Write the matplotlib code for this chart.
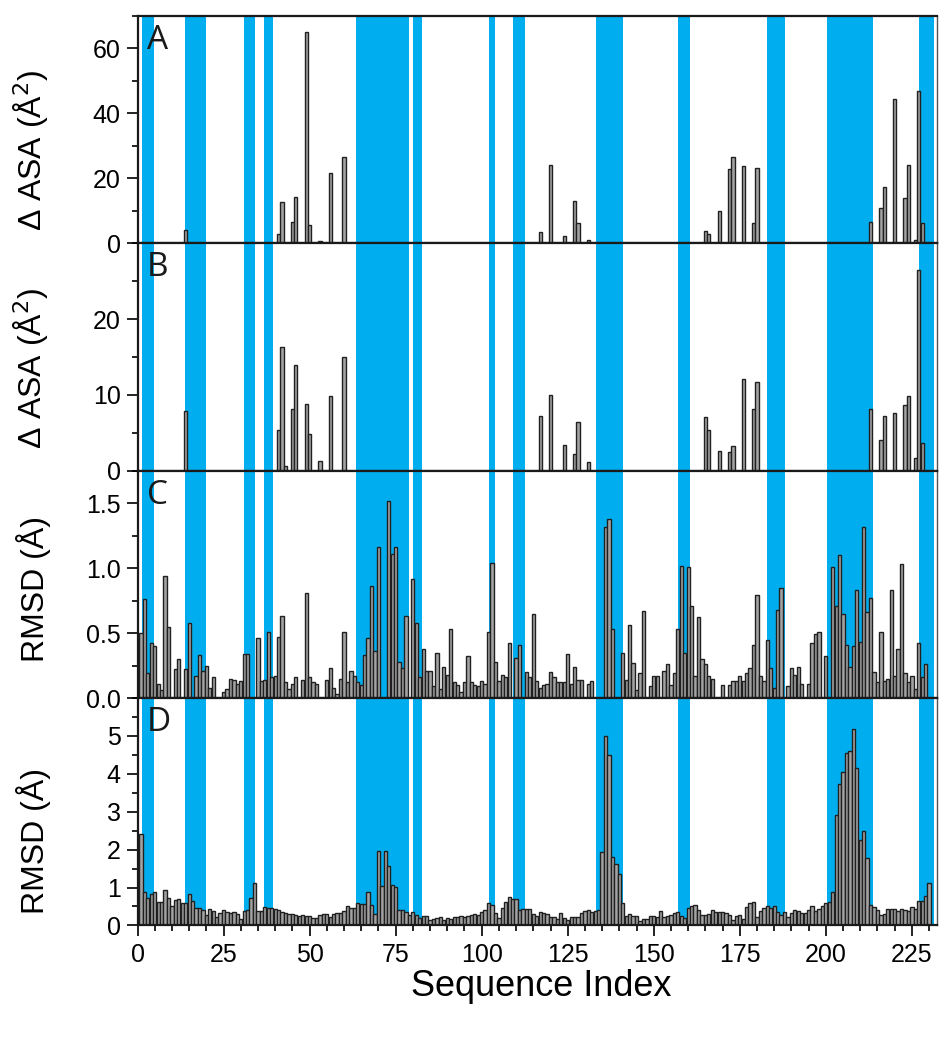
import matplotlib
matplotlib.use('Agg')
import matplotlib.pyplot as plt
import numpy as np
from matplotlib.ticker import MultipleLocator, FormatStrFormatter

# residue numbering 1..230
n_res = 230
res = np.arange(1, n_res + 1)

# panel A / B: only the residues with a non-zero value
a_idx = [14, 41, 42, 45, 46, 49, 50, 53, 56, 60, 117, 120, 124, 127, 128, 131,
         165, 166, 169, 172, 173, 176, 179, 180, 213, 216, 217, 220, 223, 224,
         226, 227, 228]
a_val = [4.0, 2.8, 12.8, 6.7, 14.3, 65.1, 5.6, 0.7, 21.6, 26.6, 3.6, 24.0, 2.1,
         13.0, 6.3, 1.1, 3.9, 2.8, 9.8, 23.0, 26.6, 23.8, 6.3, 23.3, 6.5, 10.8,
         17.2, 44.4, 14.0, 24.0, 0.9, 47.0, 6.3]

b_idx = [14, 41, 42, 43, 45, 46, 49, 50, 53, 56, 60, 117, 120, 124, 127, 128,
         131, 165, 166, 169, 172, 173, 176, 179, 180, 213, 216, 217, 220, 223,
         224, 226, 227, 228]
b_val = [7.9, 5.4, 16.3, 0.6, 8.2, 14.0, 8.8, 4.8, 1.3, 9.8, 15.0, 7.2, 10.0,
         3.4, 2.2, 6.4, 1.2, 7.1, 5.4, 2.6, 2.5, 3.2, 12.1, 8.1, 11.7, 8.2, 4.0,
         7.2, 7.6, 8.7, 9.8, 1.7, 26.5, 3.7]

# panel C: RMSD per residue
rmsd_c = [
    0.50, 0.76, 0.19, 0.42, 0.40, 0.11, 0.06, 0.94, 0.55, 0,
    0.22, 0.30, 0, 0.22, 0.58, 0, 0.17, 0.33, 0.21, 0.25,
    0.08, 0.16, 0, 0, 0.05, 0.07, 0.15, 0.14, 0.11, 0.13,
    0.34, 0.34, 0, 0, 0.46, 0.13, 0.14, 0.51, 0.16, 0.17,
    0.47, 0.63, 0.12, 0.07, 0.11, 0.16, 0, 0.14, 0.81, 0.16,
    0.12, 0.11, 0, 0, 0.14, 0.23, 0.08, 0.03, 0.15, 0.51,
    0.12, 0.21, 0.17, 0.12, 0.10, 0.33, 0.46, 0.86, 0.36, 1.16,
    0, 0, 1.52, 1.11, 1.16, 0.28, 0.23, 0.63, 0, 0.92,
    0.58, 0.16, 0.38, 0.21, 0.21, 0.09, 0.35, 0.07, 0.24, 0.18,
    0.53, 0.12, 0.10, 0.05, 0.12, 0.32, 0.12, 0.10, 0.09, 0.13,
    0.11, 0.51, 1.04, 0.28, 0.13, 0.18, 0.16, 0.42, 0, 0.31,
    0.41, 0, 0.20, 0.16, 0.65, 0.13, 0.08, 0.10, 0.11, 0.20,
    0.16, 0.12, 0.12, 0.12, 0.34, 0.11, 0.24, 0.14, 0.14, 0,
    0.11, 0.13, 0, 0, 0, 1.32, 1.38, 0.53, 0, 0,
    0.35, 0.14, 0.56, 0.27, 0.06, 0.19, 0.67, 0, 0.09, 0.17,
    0.17, 0, 0.21, 0.26, 0.10, 0.19, 0.53, 1.02, 0.35, 1.01,
    0.71, 0.17, 0.62, 0.30, 0.26, 0.17, 0.15, 0, 0, 0.10,
    0, 0.10, 0.13, 0.13, 0.17, 0.13, 0.19, 0.23, 0.41, 0.79,
    0.17, 0.13, 0.45, 0.23, 0.08, 0.68, 0.85, 0, 0.09, 0.23,
    0.18, 0.24, 0.11, 0, 0.11, 0.42, 0.49, 0.51, 0, 0.32,
    0, 1.01, 0.71, 1.10, 0.65, 0.41, 0.24, 0.40, 0.83, 0.43,
    1.32, 0.66, 0.77, 0.20, 0.12, 0.51, 0.13, 0.15, 0.83, 0.17,
    0.38, 1.03, 0.19, 0.12, 0.17, 0.07, 0.42, 0.16, 0.26, 0,
]

# panel D: RMSD per residue
rmsd_d = [
    2.40, 0.87, 0.73, 0.82, 0.88, 0.62, 0.62, 0.93, 0.73, 0.50,
    0.66, 0.71, 0.60, 0.58, 0.83, 0.64, 0.46, 0.46, 0.42, 0.27,
    0.44, 0.38, 0.22, 0.34, 0.42, 0.35, 0.33, 0.35, 0.31, 0.18,
    0.37, 0.40, 0.73, 1.11, 0.38, 0.38, 0.49, 0.46, 0.46, 0.44,
    0.40, 0.35, 0.33, 0.29, 0.29, 0.28, 0.25, 0.27, 0.26, 0.24,
    0.20, 0.19, 0.27, 0.31, 0.29, 0.22, 0.31, 0.32, 0.33, 0.37,
    0.50, 0.45, 0.47, 0.58, 0.56, 0.56, 0.87, 0.53, 0.31, 1.97,
    1.04, 1.97, 1.57, 1.06, 1.01, 0.40, 0.40, 0.35, 0.28, 0.35,
    0.28, 0.19, 0.24, 0.26, 0.14, 0.18, 0.19, 0.21, 0.14, 0.19,
    0.18, 0.22, 0.22, 0.26, 0.22, 0.26, 0.28, 0.31, 0.28, 0.35,
    0.40, 0.59, 0.55, 0.33, 0.19, 0.46, 0.62, 0.74, 0.70, 0.70,
    0.42, 0.44, 0.44, 0.44, 0.30, 0.26, 0.35, 0.33, 0.30, 0.21,
    0.21, 0.17, 0.33, 0.19, 0.15, 0.22, 0.22, 0.21, 0.33, 0.37,
    0.40, 0.35, 0.39, 0.42, 1.95, 4.99, 4.49, 1.81, 1.61, 1.37,
    0.58, 0.26, 0.31, 0.26, 0.24, 0.13, 0.18, 0.18, 0.24, 0.26,
    0.22, 0.39, 0.22, 0.24, 0.28, 0.33, 0.35, 0.26, 0.19, 0.46,
    0.50, 0.53, 0.40, 0.28, 0.28, 0.30, 0.40, 0.35, 0.35, 0.35,
    0.33, 0.28, 0.15, 0.26, 0.28, 0.17, 0.49, 0.59, 0.61, 0.22,
    0.39, 0.46, 0.52, 0.46, 0.52, 0.35, 0.28, 0.35, 0.22, 0.33,
    0.40, 0.37, 0.33, 0.33, 0.42, 0.50, 0.37, 0.43, 0.50, 0.58,
    0.61, 0.88, 2.92, 3.72, 4.04, 4.55, 4.60, 5.18, 4.15, 2.26,
    2.50, 1.79, 0.53, 0.48, 0.40, 0.28, 0.30, 0.44, 0.44, 0.44,
    0.37, 0.44, 0.42, 0.37, 0.49, 0.44, 0.65, 0.64, 0.77, 1.11,
]

# shaded (blue) segments, sequence index ranges
bands = [(1.4, 4.8), (13.9, 20.0), (30.8, 34.2), (36.8, 39.3), (63.6, 78.9),
         (80.1, 82.6), (102.2, 103.8), (109.1, 112.5), (133.1, 141.0),
         (157.0, 160.4), (183.0, 188.0), (200.2, 213.7), (227.1, 231.5)]

asa_a = np.zeros(n_res)
asa_a[np.array(a_idx) - 1] = a_val
asa_b = np.zeros(n_res)
asa_b[np.array(b_idx) - 1] = b_val

# letter, values, y label, ymax, labelled ticks, minor step, label y-position
panels = [
    ('A', asa_a, 'Δ ASA (Å$^{2}$)', 70, [0, 20, 40, 60], 10, 0.41),
    ('B', asa_b, 'Δ ASA (Å$^{2}$)', 30, [0, 10, 20], 5, 0.45),
    ('C', np.array(rmsd_c), 'RMSD (Å)', 1.75, [0, 0.5, 1.0, 1.5], 0.25, 0.48),
    ('D', np.array(rmsd_d), 'RMSD (Å)', 6.0, [0, 1, 2, 3, 4, 5], 0.5, 0.37),
]

blue = '#00aeef'
tick_font = 'Liberation Sans'

fig = plt.figure(figsize=(9.4, 10.39), dpi=100)
left, width = 0.1463, 0.8505
bottom0, h = 0.1093, 0.21885

for k, (letter, vals, ylab, ytop, yt, minor, ly) in enumerate(panels):
    ax = fig.add_axes([left, bottom0 + (3 - k) * h, width, h])
    for x0, x1 in bands:
        ax.axvspan(x0, x1, color=blue, lw=0, zorder=0)
    ax.bar(res, vals, width=0.95, color='#a3a3a3', edgecolor='#202020',
           linewidth=1.0, zorder=2)
    ax.set_xlim(0, 232.3)
    ax.set_ylim(0, ytop)
    ax.set_yticks(yt)
    ax.yaxis.set_minor_locator(MultipleLocator(minor))
    ax.xaxis.set_major_locator(MultipleLocator(25))
    ax.xaxis.set_minor_locator(MultipleLocator(5))
    ax.tick_params(axis='y', which='major', direction='out', length=8,
                   width=1.2, labelsize=18, pad=4)
    ax.tick_params(axis='y', which='minor', direction='out', length=4.5,
                   width=1.2)
    if letter == 'D':
        ax.tick_params(axis='x', which='major', direction='out', length=8,
                       width=1.2, labelsize=18, pad=5)
        ax.tick_params(axis='x', which='minor', direction='out', length=4.5,
                       width=1.2)
    else:
        ax.tick_params(axis='x', which='both', bottom=False, labelbottom=False)
    for lab in ax.get_xticklabels() + ax.get_yticklabels():
        lab.set_family(tick_font)
    if letter == 'C':
        ax.yaxis.set_major_formatter(FormatStrFormatter('%.1f'))
    for side in ['left', 'bottom', 'top']:
        ax.spines[side].set_linewidth(1.6)
        ax.spines[side].set_color('#1a1a1a')
    ax.spines['right'].set_linewidth(1.0)
    ax.spines['right'].set_color('#555555')
    ax.set_ylabel(ylab, fontsize=23, family=tick_font)
    ax.yaxis.set_label_coords(-0.108, ly)
    ax.text(0.012, 0.965, letter, transform=ax.transAxes, ha='left', va='top',
            fontsize=24, family='Open Sans', color='#1a1a1a', zorder=5)

fig.text(0.5755, 0.051, 'Sequence Index', ha='center', va='center',
         fontsize=26, family=tick_font)

fig.savefig('out.png', dpi=100)
